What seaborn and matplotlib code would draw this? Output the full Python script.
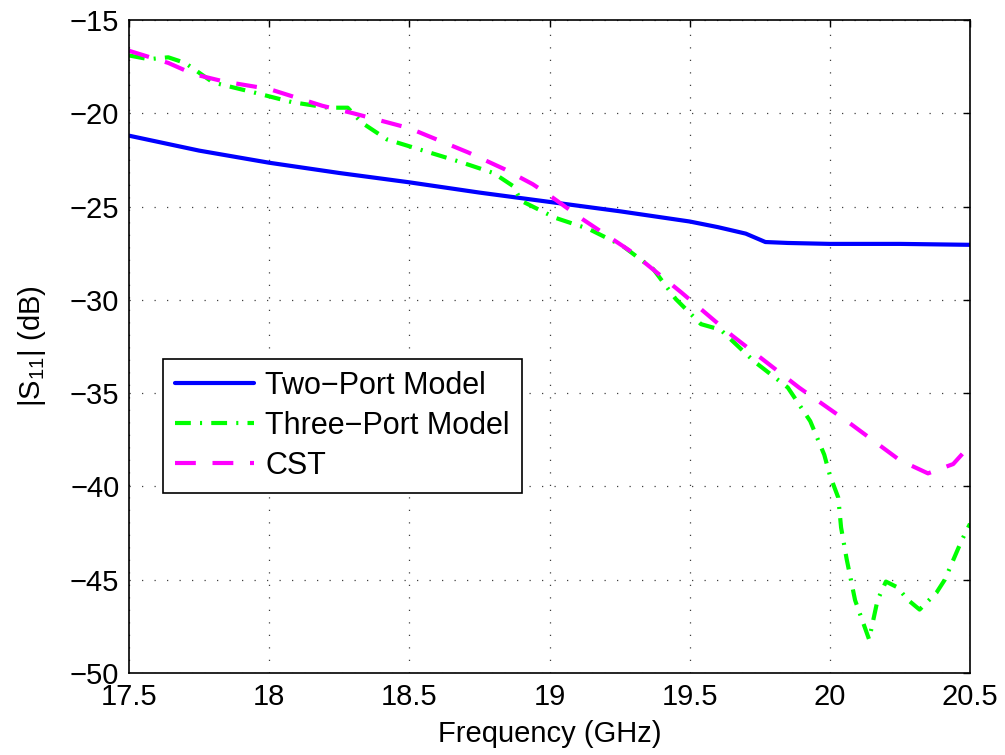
import matplotlib
matplotlib.use("Agg")
import matplotlib.pyplot as plt
import seaborn as sns
import pandas as pd

# Frequency sweeps (GHz) and |S11| values (dB) for each model
f_two = [17.5, 17.75, 18.0, 18.25, 18.5, 18.75, 19.0, 19.25, 19.5, 19.6,
         19.7, 19.77, 19.85, 20.0, 20.25, 20.5]
s11_two = [-21.2, -22.0, -22.65, -23.2, -23.7, -24.25, -24.75, -25.25, -25.8, -26.1,
           -26.45, -26.9, -26.95, -27.0, -27.0, -27.05]

f_three = [17.5, 17.57, 17.64, 17.7, 17.8, 17.95, 18.08, 18.21, 18.28, 18.33,
           18.42, 18.55, 18.68, 18.8, 18.87, 18.9, 19.02, 19.14, 19.26, 19.37,
           19.45, 19.54, 19.61, 19.73, 19.85, 19.93, 19.98, 20.0, 20.03, 20.04,
           20.06, 20.09, 20.14, 20.17, 20.2, 20.24, 20.28, 20.32, 20.38, 20.41,
           20.47, 20.5]
s11_three = [-16.9, -17.1, -17.0, -17.3, -18.35, -18.9, -19.4, -19.7, -19.7, -20.5,
             -21.4, -22.0, -22.6, -23.2, -23.9, -24.7, -25.6, -26.2, -27.1, -28.35,
             -29.95, -31.3, -31.6, -33.3, -34.7, -36.5, -38.3, -39.4, -40.6, -42.2,
             -43.9, -46.1, -48.2, -46.1, -45.1, -45.4, -46.1, -46.6, -45.7, -45.0,
             -42.9, -42.0]

f_cst = [17.5, 17.64, 17.73, 17.84, 18.0, 18.19, 18.3, 18.5, 18.71, 18.84,
         18.94, 19.0, 19.12, 19.29, 19.47, 19.65, 19.89, 20.07, 20.25, 20.35,
         20.44, 20.5]
s11_cst = [-16.65, -17.3, -17.9, -18.3, -18.7, -19.6, -20.0, -20.8, -22.1, -23.0,
           -23.8, -24.4, -25.7, -27.4, -29.6, -31.9, -34.7, -36.6, -38.6, -39.3,
           -38.8, -37.8]

labels = ["Two\u2212Port Model", "Three\u2212Port Model", "CST"]
x_ticks = [17.5, 18, 18.5, 19, 19.5, 20, 20.5]
x_tick_labels = ["17.5", "18", "18.5", "19", "19.5", "20", "20.5"]
y_ticks = [-50, -45, -40, -35, -30, -25, -20, -15]

sns.set_style("white")
plt.rcParams["font.family"] = ["Liberation Sans", "DejaVu Sans"]
plt.rcParams["mathtext.default"] = "regular"
plt.rcParams["axes.unicode_minus"] = True
plt.rcParams["text.color"] = "black"
plt.rcParams["axes.labelcolor"] = "black"

fig = plt.figure(figsize=(10.05, 7.55), dpi=100)
ax = fig.add_axes([0.1284, 0.1086, 0.8368, 0.8649])

df_two = pd.DataFrame({"f": f_two, "s11": s11_two})
df_three = pd.DataFrame({"f": f_three, "s11": s11_three})
df_cst = pd.DataFrame({"f": f_cst, "s11": s11_cst})

sns.lineplot(data=df_two, x="f", y="s11", ax=ax, color=(0, 0, 1), linewidth=3,
             label=labels[0], sort=False)
sns.lineplot(data=df_three, x="f", y="s11", ax=ax, color=(0, 1, 0), linewidth=3,
             label=labels[1], sort=False)
sns.lineplot(data=df_cst, x="f", y="s11", ax=ax, color=(1, 0, 1), linewidth=3,
             label=labels[2], sort=False)

lines = ax.get_lines()
lines[1].set_dashes([3.8, 2.2, 0.5, 2.2])
lines[2].set_dashes([5, 4])

ax.set_xlim(17.5, 20.5)
ax.set_ylim(-50, -15)
ax.set_xticks(x_ticks)
ax.set_xticklabels(x_tick_labels)
ax.set_yticks(y_ticks)

ax.grid(True, color="0.25", linestyle=(0, (1, 9)), linewidth=0.9)
ax.tick_params(direction="in", length=5, width=1, top=True, right=True,
               labelsize=21, pad=7, colors="black")
for side in ax.spines.values():
    side.set_color("black")
    side.set_linewidth(1.2)

ax.set_xlabel("Frequency (GHz)", fontsize=21, labelpad=7)
ax.set_ylabel("|S$_{11}$| (dB)", fontsize=21, labelpad=16)

leg = ax.legend(loc="lower left", bbox_to_anchor=(0.04, 0.276), fontsize=22,
                frameon=True, fancybox=False, framealpha=1, edgecolor="black",
                handlelength=2.6, handletextpad=0.35, borderpad=0.4,
                labelspacing=0.32, borderaxespad=0)
leg.get_frame().set_linewidth(1.2)
for txt in leg.get_texts():
    txt.set_color("black")

fig.savefig("out.png", dpi=100)
